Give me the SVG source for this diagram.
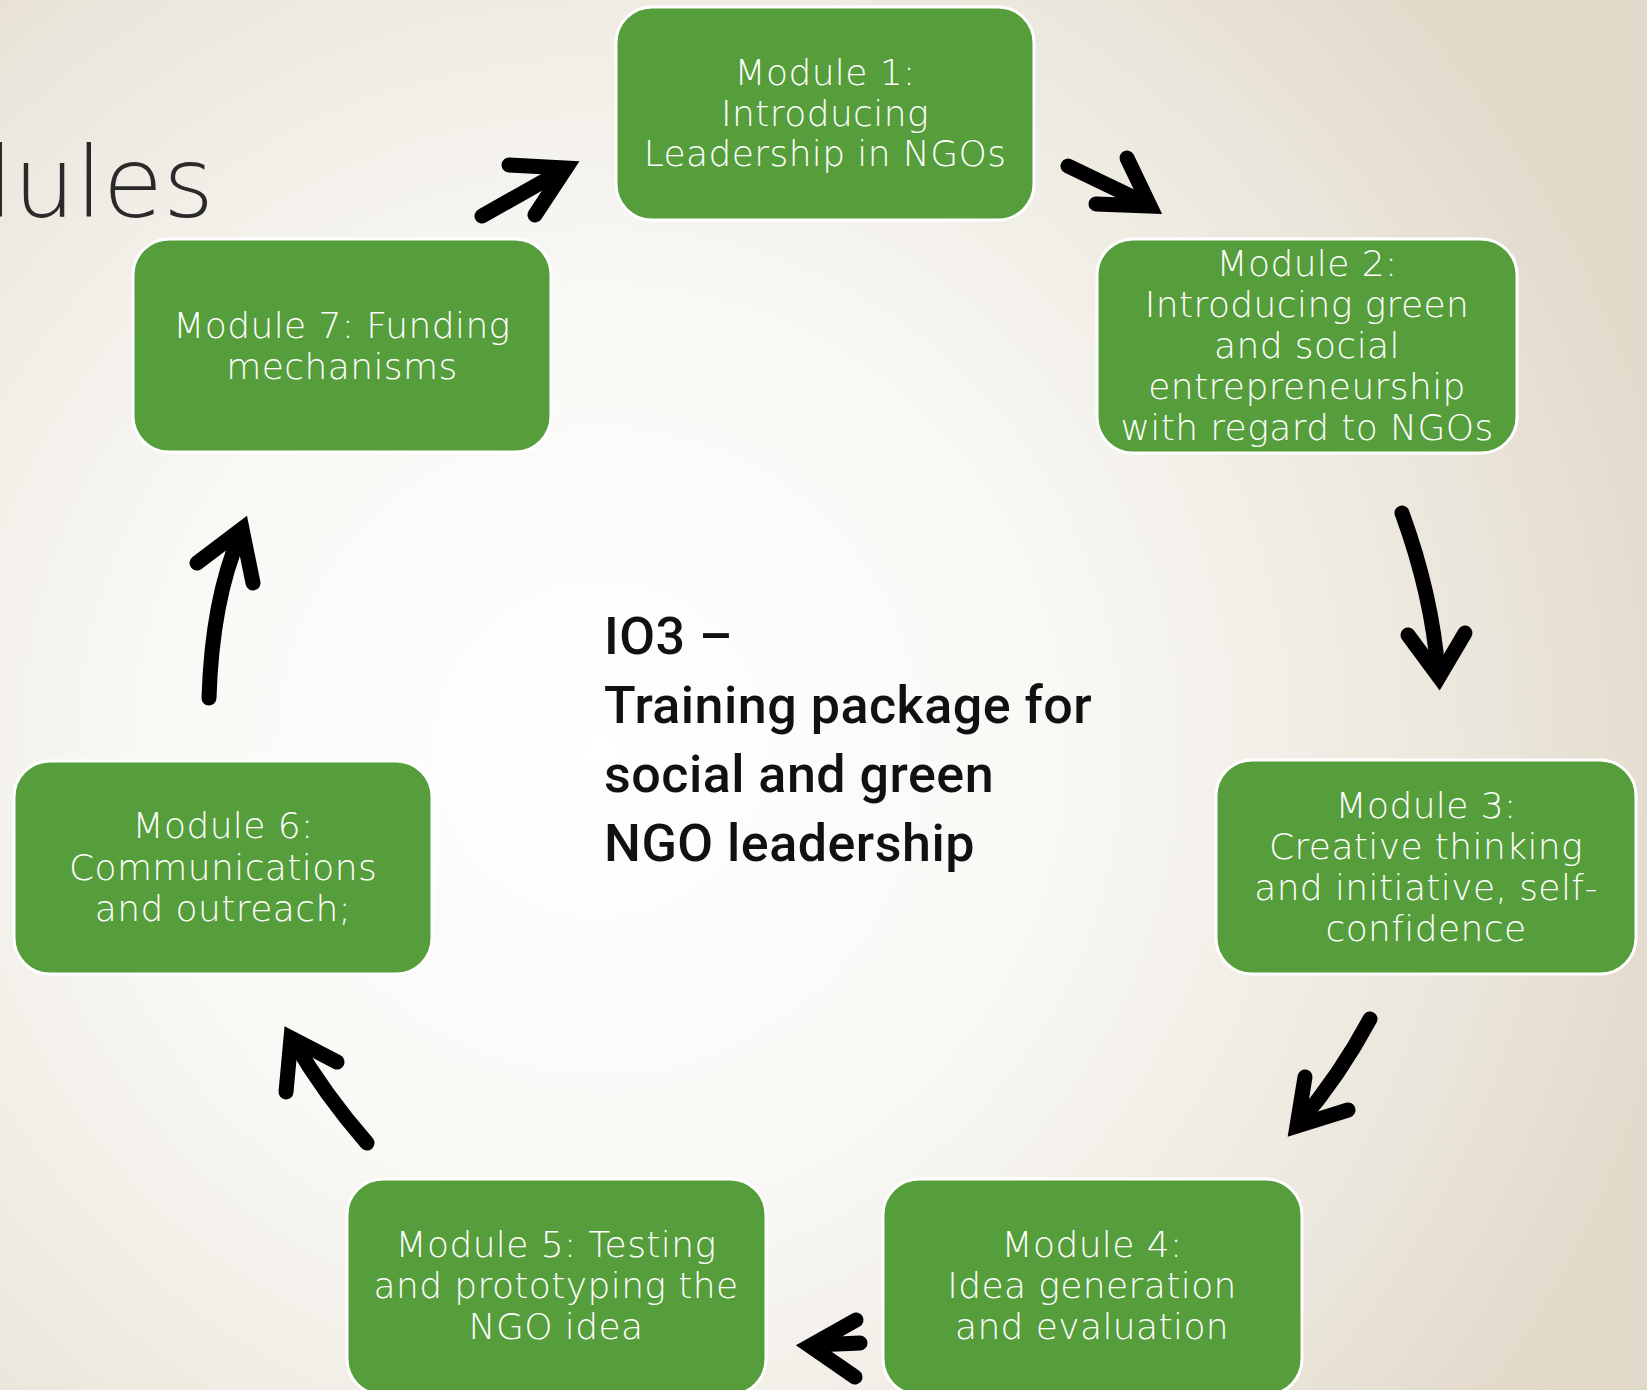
<svg xmlns="http://www.w3.org/2000/svg" width="1647" height="1390" viewBox="0 0 1647 1390">
<defs>
<radialGradient id="bg" gradientUnits="userSpaceOnUse" cx="600" cy="750" r="1150">
<stop offset="0" stop-color="#ffffff"/>
<stop offset="0.4" stop-color="#f9f8f5"/>
<stop offset="0.75" stop-color="#ece7dd"/>
<stop offset="1" stop-color="#e0d8c8"/>
</radialGradient>
<style>
.box{fill:#559e3b;stroke:#ffffff;stroke-width:3}
.lbl{font-family:"DejaVu Sans",sans-serif;font-weight:200;font-size:36px;letter-spacing:0.4px;fill:#ffffff;text-anchor:middle}
.arr{fill:none;stroke:#000000;stroke-width:15;stroke-linecap:round}
.head{fill:none;stroke:#000000;stroke-width:15;stroke-linecap:round;stroke-linejoin:miter;stroke-miterlimit:6}
.center{font-family:Roboto,"Liberation Sans",sans-serif;font-weight:500;font-size:52px;letter-spacing:0.5px;fill:#111111}
</style>
</defs>
<rect x="0" y="0" width="1647" height="1390" fill="url(#bg)"/>
<text x="214" y="217" font-family="'DejaVu Sans',sans-serif" font-weight="200" font-size="98" fill="#2a2a2a" text-anchor="end">dules</text>

<g id="connectors">
<g id="a71"><path class="arr" d="M482,216 L560,172"/><path class="head" d="M509,165 L566,168 L535,215"/></g>
<g id="a12"><path class="arr" d="M1068,166 L1145,203"/><path class="head" d="M1127,158 L1150,206 L1096,204"/></g>
<g id="a23"><path class="arr" d="M1402,513 Q1432,595 1438,672"/><path class="head" d="M1408,635 L1439,677 L1465,633"/></g>
<g id="a34"><path class="arr" d="M1370,1019 Q1340,1075 1300,1122"/><path class="head" d="M1305,1077 L1297,1126 L1348,1110"/></g>
<g id="a45"><path class="arr" d="M860,1343 L815,1345"/><path class="head" d="M856,1320 L810,1346 L855,1377"/></g>
<g id="a56"><path class="arr" d="M367,1143 Q325,1095 294,1042"/><path class="head" d="M337,1062 L291,1038 L286,1092"/></g>
<g id="a67"><path class="arr" d="M209,698 Q212,600 240,535"/><path class="head" d="M197,563 L242,529 L253,583"/></g>
</g>

<g id="node1">
<rect class="box" x="616" y="7" width="418" height="213" rx="36"/>
<text class="lbl"><tspan x="825" y="85">Module 1:</tspan><tspan x="825" y="126">Introducing</tspan><tspan x="825" y="166">Leadership in NGOs</tspan></text>
</g>
<g id="node2">
<rect class="box" x="1097" y="239" width="420" height="214" rx="36"/>
<text class="lbl"><tspan x="1307" y="276">Module 2:</tspan><tspan x="1307" y="317">Introducing green</tspan><tspan x="1307" y="358">and social</tspan><tspan x="1307" y="399">entrepreneurship</tspan><tspan x="1307" y="440">with regard to NGOs</tspan></text>
</g>
<g id="node3">
<rect class="box" x="1216" y="760" width="420" height="214" rx="36"/>
<text class="lbl"><tspan x="1426" y="818">Module 3:</tspan><tspan x="1426" y="859">Creative thinking</tspan><tspan x="1426" y="900">and initiative, self-</tspan><tspan x="1426" y="941">confidence</tspan></text>
</g>
<g id="node4">
<rect class="box" x="883" y="1179" width="419" height="216" rx="36"/>
<text class="lbl"><tspan x="1092" y="1257">Module 4:</tspan><tspan x="1092" y="1298">Idea generation</tspan><tspan x="1092" y="1339">and evaluation</tspan></text>
</g>
<g id="node5">
<rect class="box" x="347" y="1179" width="419" height="216" rx="36"/>
<text class="lbl"><tspan x="556" y="1257">Module 5: Testing</tspan><tspan x="556" y="1298">and prototyping the</tspan><tspan x="556" y="1339">NGO idea</tspan></text>
</g>
<g id="node6">
<rect class="box" x="14" y="761" width="418" height="213" rx="36"/>
<text class="lbl"><tspan x="223" y="838">Module 6:</tspan><tspan x="223" y="880">Communications</tspan><tspan x="223" y="921">and outreach;</tspan></text>
</g>
<g id="node7">
<rect class="box" x="133" y="239" width="418" height="213" rx="36"/>
<text class="lbl"><tspan x="342" y="338">Module 7: Funding</tspan><tspan x="342" y="379">mechanisms</tspan></text>
</g>
<g id="title">
<text class="center"><tspan x="604" y="654">IO3 –</tspan><tspan x="604" y="723">Training package for</tspan><tspan x="604" y="792">social and green</tspan><tspan x="604" y="861">NGO leadership</tspan></text>
</g>
</svg>
